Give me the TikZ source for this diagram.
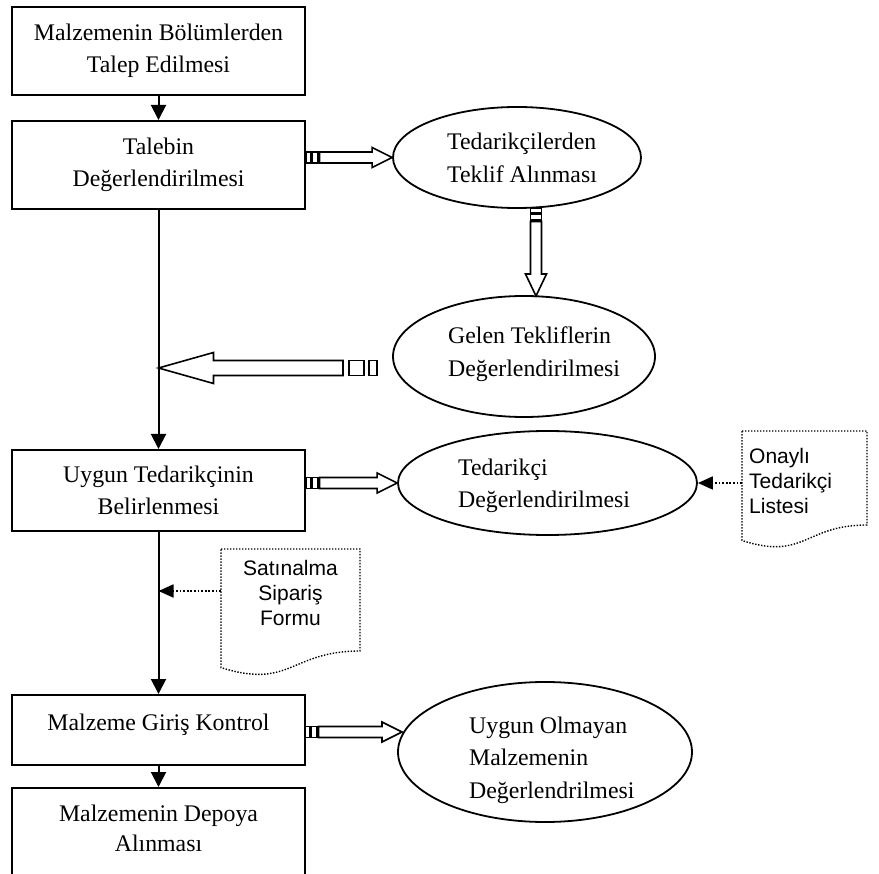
\documentclass[tikz,border=0pt]{standalone}
\usepackage{fontspec}
\setmainfont{Liberation Serif}
\newfontfamily\sansf{Liberation Sans}
\usetikzlibrary{arrows.meta,calc,shapes.geometric}
\newcommand\stripR[2]{%
\draw[harrow] ($(#1)+(0.5,-5.5)$) rectangle ($(#1)+(5,5.5)$);
\draw[harrow] ($(#1)+(6.5,-5.5)$) rectangle ($(#1)+(12,5.5)$);
\draw[harrow] ($(#1)+(13.5,-5.5)$) -- ($(#2)+(-20,-5.5)$) -- ($(#2)+(-20,-10)$) -- (#2) -- ($(#2)+(-20,10)$) -- ($(#2)+(-20,5.5)$) -- ($(#1)+(13.5,5.5)$) -- cycle;}
\newcommand\stripD[2]{%
\draw[harrow] ($(#1)+(-5.5,0.5)$) rectangle ($(#1)+(5.5,4.5)$);
\draw[harrow] ($(#1)+(-5.5,6)$) rectangle ($(#1)+(5.5,12)$);
\draw[harrow] ($(#1)+(-5.5,13.5)$) -- ($(#2)+(-5.5,-22)$) -- ($(#2)+(-10.5,-22)$) -- (#2) -- ($(#2)+(10.5,-22)$) -- ($(#2)+(5.5,-22)$) -- ($(#1)+(5.5,13.5)$) -- cycle;}
\begin{document}
\begin{tikzpicture}[x=1pt,y=-1pt,
 box/.style={draw,line width=2pt,minimum width=293pt,align=center,inner sep=0pt,font=\fontsize{23.8}{31.5}\selectfont},
 ell/.style={draw,ellipse,line width=1.8pt,inner sep=0pt},
 etext/.style={align=left,inner sep=0pt,anchor=west,font=\fontsize{23.8}{32.5}\selectfont},
 dtext/.style={inner sep=0pt,font=\sansf\fontsize{21}{25}\selectfont},
 docline/.style={line width=1.4pt,dash pattern=on 1.4pt off 1.6pt},
 flow/.style={line width=2pt,-{Triangle[length=15pt,width=15pt]}},
 dotarrow/.style={line width=1.8pt,dash pattern=on 1.8pt off 1.8pt,-{Triangle[length=15pt,width=13pt]}},
 harrow/.style={line width=1.6pt,fill=white}]
\useasboundingbox (0,0) rectangle (879,874);
\clip (0,0) rectangle (879,874);
% boxes
\node[box,minimum height=88pt] (b1) at (158.5,51) {Malzemenin Bölümlerden\\Talep Edilmesi};
\node[box,minimum height=88pt] (b2) at (158.5,165) {Talebin\\Değerlendirilmesi};
\node[box,minimum height=81pt] (b3) at (158.5,490.5) {Uygun Tedarikçinin\\Belirlenmesi};
\node[box,minimum height=70pt,text height=16pt,text depth=16pt] (b4) at (158.5,730) {Malzeme Giriş Kontrol};
\node[box,minimum height=150pt,anchor=north] (b5) at (158.5,787) {};
\node[box,draw=none,minimum width=0pt,font=\fontsize{23.8}{30}\selectfont] (b5t) at (158.5,828.5) {Malzemenin Depoya\\Alınması};
% ellipses
\node[ell,minimum width=248pt,minimum height=101pt] (e1) at (517,157.5) {};
\node[etext] (e1t) at (447,158) {Tedarikçilerden\\Teklif Alınması};
\node[ell,minimum width=262pt,minimum height=121pt] (e2) at (524,356.5) {};
\node[etext,font=\fontsize{23.8}{33}\selectfont] (e2t) at (448,354.5) {Gelen Tekliflerin\\Değerlendirilmesi};
\node[ell,minimum width=299pt,minimum height=104pt] (e3) at (547.5,483) {};
\node[etext] (e3t) at (458,486) {Tedarikçi\\Değerlendirilmesi};
\node[ell,minimum width=294pt,minimum height=140pt] (e4) at (545,752) {};
\node[etext] (e4t) at (469,760) {Uygun Olmayan\\Malzemenin\\Değerlendrilmesi};
% documents
\draw[docline] (221,549) -- (360,549) -- (360,651) .. controls (290.5,651) and (290.5,689.6) .. (221,667.6) -- cycle;
\node[dtext,align=center] (d1) at (290.5,593) {Satınalma\\Sipariş\\Formu};
\draw[docline] (742,431) -- (867,431) -- (867,525) .. controls (804.5,525) and (804.5,560.8) .. (742,540.5) -- cycle;
\node[dtext,align=left,anchor=west] (d2) at (749,481) {Onaylı\\Tedarikçi\\Listesi};
% flow arrows
\draw[flow] (b1.south) -- (b2.north);
\draw[flow] (b2.south) -- (b3.north);
\draw[flow] (b3.south) -- (b4.north);
\draw[flow] (b4.south) -- (b5.north);
% dotted arrows
\coordinate (d1l) at (221,591);
\draw[dotarrow] (d1l) -- (d1l -| b2.south);
\coordinate (d2l) at (742,483);
\draw[dotarrow] (d2l) -- (e3.east);
% striped block arrows
\coordinate (t1) at (b2.east |- e1.west);
\stripR{t1}{e1.west}
\coordinate (t3) at (b3.east |- e3.west);
\stripR{t3}{e3.west}
\coordinate (t4) at (305,732);
\coordinate (h4) at (402,732);
\stripR{t4}{h4}
\coordinate (tv) at (536,208);
\coordinate (hv) at (536,296);
\stripD{tv}{hv}
\coordinate (lt) at (377,368);
\coordinate (lh) at (lt -| b2.south);
\draw[harrow] ($(lt)+(-8,-7.5)$) rectangle ($(lt)+(0,7.5)$);
\draw[harrow] ($(lt)+(-28,-7.5)$) rectangle ($(lt)+(-13,7.5)$);
\draw[harrow] ($(lt)+(-34,-7.5)$) -- ($(lh)+(55,-7.5)$) -- ($(lh)+(55,-15.5)$) -- (lh) -- ($(lh)+(55,15.5)$) -- ($(lh)+(55,7.5)$) -- ($(lt)+(-34,7.5)$) -- cycle;
\end{tikzpicture}
\end{document}
